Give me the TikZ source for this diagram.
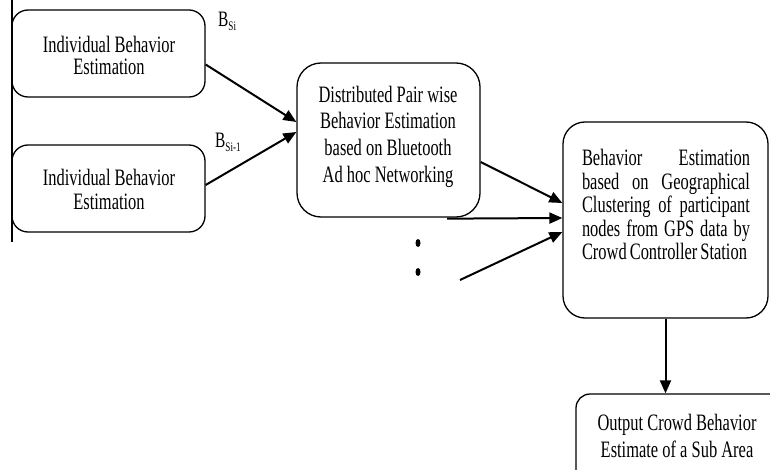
\documentclass[tikz,border=0pt]{standalone}
\usepackage{fontspec}
\setmainfont[FakeStretch=0.70]{Liberation Serif}
\usetikzlibrary{arrows.meta,calc}
\begin{document}
\begin{tikzpicture}[x=1pt,y=-1pt,
  box/.style={draw, line width=1.3pt, rounded corners=16pt, inner sep=0pt},
  txt/.style={align=center, inner sep=0pt},
  arr/.style={line width=2pt, -{Triangle[length=13pt,width=11pt]}},
  lab/.style={anchor=base west, inner sep=0pt, font=\fontsize{22}{22}\selectfont}
]
\clip (0,0) rectangle (770,470);
\fill[white] (0,0) rectangle (770,470);

% boxes
\node[box, minimum width=193pt, minimum height=87pt] (b1) at (108.5,53.5) {};
\node[box, minimum width=193pt, minimum height=87pt] (b2) at (108.5,188.5) {};
\node[box, minimum width=183pt, minimum height=154pt, rounded corners=24pt] (b3) at (388.5,140) {};
\node[box, minimum width=205pt, minimum height=196pt, rounded corners=22pt] (b4) at (665.5,220) {};
\node[box, minimum width=240pt, minimum height=100pt, rounded corners=14pt] (b5) at (696,444) {};

% left rule
\coordinate (lt) at (12,0);
\coordinate (lb) at (12,242);
\draw[line width=1.3pt] (lt) -- (lb);

% texts
\node[txt, font=\fontsize{23.5}{22}\selectfont] (t1) at (109,55.5) {Individual Behavior\\Estimation};
\node[txt, font=\fontsize{23.5}{24}\selectfont] (t2) at (109,189.5) {Individual Behavior\\Estimation};
\node[txt, font=\fontsize{23.5}{26.7}\selectfont] (t3) at (388,136.5) {Distributed Pair wise\\Behavior Estimation\\based on Bluetooth\\Ad hoc Networking};
\node[inner sep=0pt, font=\fontsize{23.5}{23.5}\selectfont] (t4) at (666,204.5)
  {\vbox{\hsize=168pt \baselineskip=23.5pt
   \hbox to 168pt{Behavior\hfill Estimation}
   \hbox to 168pt{based\hfill on\hfill Geographical}
   \hbox to 168pt{Clustering\hfill of\hfill participant}
   \hbox to 168pt{nodes\hfill from\hfill GPS\hfill data\hfill by}
   \hbox to 168pt{Crowd\hfil Controller\hfil Station\hss}}};
\node[txt, font=\fontsize{23.5}{27}\selectfont] (t5) at (677,436) {Output Crowd Behavior\\Estimate of a Sub Area};

% labels
\node[lab] (l1) at (218,27) {B\raisebox{-4pt}{\fontsize{13}{13}\selectfont Si}};
\node[lab] (l2) at (215,148) {B\raisebox{-4pt}{\fontsize{13}{13}\selectfont Si-1}};

% connectors
\draw[arr] ($(b1.east)+(0,11)$) -- ($(b3.west)+(0,-18)$);
\draw[arr] ($(b2.east)+(0,-3.5)$) -- ($(b3.west)+(0,-8)$);
\draw[arr] ($(b3.east)+(0,22)$) -- ($(b4.west)+(0,-17)$);
\draw[arr] ($(b3.south)+(58.5,1)$) -- ($(b4.west)+(0,-2)$);
\coordinate (free) at (460,280);
\draw[arr] (free) -- ($(b4.west)+(0,12)$);
\draw[arr] (b4.south) -- (b4.south |- b5.north);

% dots
\fill (418,243) ellipse [x radius=2.5pt, y radius=4pt];
\fill (418,272) ellipse [x radius=2.5pt, y radius=4pt];
\end{tikzpicture}
\end{document}
